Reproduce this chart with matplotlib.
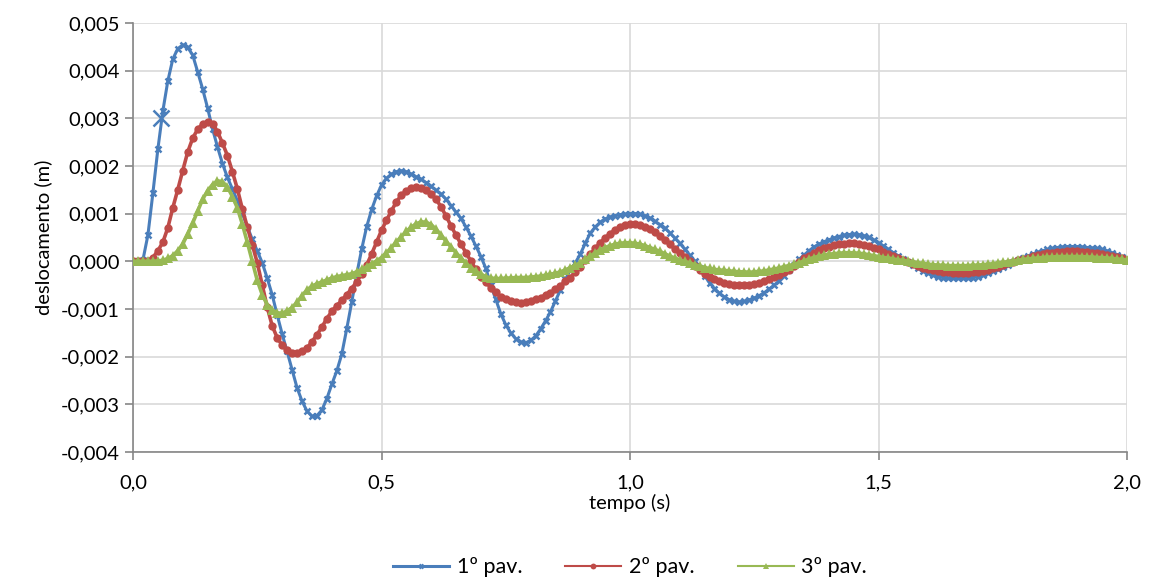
import numpy as np
import matplotlib
matplotlib.use("Agg")
import matplotlib.pyplot as plt
from matplotlib.ticker import FuncFormatter, MultipleLocator

# time axis: 0.00 .. 2.00 s, step 0.01 s
t_start, t_step, n_pts = 0.0, 0.01, 201

# displacements, in mm (x 1e-3 m)
pav1_mm = [
 0.00, 0.00, 0.03, 0.55, 1.43, 2.35, 3.15, 3.78, 4.24, 4.46,
 4.54, 4.49, 4.33, 3.98, 3.62, 3.22, 2.78, 2.40, 2.05, 1.76,
 1.52, 1.27, 1.00, 0.73, 0.46, 0.22, -0.03, -0.35, -0.70, -1.12,
 -1.52, -1.89, -2.27, -2.65, -2.93, -3.14, -3.25, -3.24, -3.12, -2.88,
 -2.58, -2.30, -1.95, -1.42, -0.86, -0.28, 0.25, 0.72, 1.08, 1.37,
 1.60, 1.74, 1.83, 1.88, 1.90, 1.88, 1.83, 1.77, 1.72, 1.65,
 1.57, 1.49, 1.41, 1.30, 1.17, 1.03, 0.90, 0.72, 0.53, 0.32,
 0.10, -0.15, -0.50, -0.80, -1.10, -1.33, -1.50, -1.62, -1.69, -1.71,
 -1.66, -1.57, -1.42, -1.25, -1.06, -0.83, -0.60, -0.38, -0.18, -0.03,
 0.15, 0.38, 0.59, 0.72, 0.82, 0.89, 0.93, 0.96, 0.98, 0.99,
 1.00, 1.00, 0.99, 0.96, 0.91, 0.84, 0.77, 0.70, 0.60, 0.49,
 0.38, 0.26, 0.13, 0.01, -0.15, -0.30, -0.45, -0.57, -0.67, -0.75,
 -0.81, -0.84, -0.85, -0.84, -0.81, -0.77, -0.72, -0.66, -0.58, -0.50,
 -0.41, -0.30, -0.19, -0.07, 0.04, 0.13, 0.22, 0.30, 0.36, 0.41,
 0.45, 0.49, 0.52, 0.55, 0.56, 0.57, 0.56, 0.54, 0.50, 0.45,
 0.39, 0.32, 0.25, 0.18, 0.11, 0.04, -0.02, -0.08, -0.14, -0.20,
 -0.25, -0.29, -0.32, -0.34, -0.35, -0.36, -0.36, -0.36, -0.35, -0.34,
 -0.32, -0.29, -0.25, -0.21, -0.17, -0.12, -0.07, -0.02, 0.02, 0.07,
 0.11, 0.15, 0.19, 0.22, 0.25, 0.27, 0.29, 0.30, 0.31, 0.31,
 0.31, 0.30, 0.29, 0.28, 0.27, 0.25, 0.22, 0.18, 0.14, 0.09,
 0.02]

pav2_mm = [
 0.00, 0.00, 0.00, 0.01, 0.08, 0.22, 0.40, 0.70, 1.12, 1.50,
 1.90, 2.29, 2.58, 2.77, 2.88, 2.93, 2.88, 2.72, 2.48, 2.22,
 1.88, 1.52, 1.10, 0.72, 0.35, -0.03, -0.50, -0.96, -1.35, -1.60,
 -1.76, -1.86, -1.92, -1.92, -1.88, -1.82, -1.69, -1.54, -1.38, -1.20,
 -1.05, -0.93, -0.82, -0.70, -0.57, -0.43, -0.26, -0.08, 0.15, 0.40,
 0.65, 0.86, 1.06, 1.25, 1.39, 1.48, 1.53, 1.55, 1.54, 1.49,
 1.41, 1.30, 1.14, 0.95, 0.74, 0.55, 0.36, 0.18, 0.00, -0.17,
 -0.32, -0.44, -0.55, -0.65, -0.75, -0.80, -0.84, -0.86, -0.87, -0.86,
 -0.83, -0.80, -0.76, -0.71, -0.66, -0.59, -0.51, -0.42, -0.34, -0.23,
 -0.11, 0.02, 0.15, 0.27, 0.39, 0.49, 0.58, 0.66, 0.72, 0.76,
 0.78, 0.78, 0.76, 0.72, 0.67, 0.61, 0.54, 0.45, 0.36, 0.26,
 0.18, 0.09, 0.00, -0.10, -0.18, -0.26, -0.33, -0.38, -0.42, -0.45,
 -0.47, -0.49, -0.50, -0.50, -0.49, -0.47, -0.45, -0.42, -0.38, -0.33,
 -0.28, -0.23, -0.18, -0.10, -0.02, 0.06, 0.12, 0.18, 0.23, 0.28,
 0.31, 0.34, 0.36, 0.37, 0.38, 0.38, 0.37, 0.35, 0.32, 0.29,
 0.25, 0.20, 0.15, 0.11, 0.06, 0.02, -0.02, -0.06, -0.10, -0.13,
 -0.16, -0.18, -0.21, -0.22, -0.23, -0.24, -0.24, -0.24, -0.24, -0.23,
 -0.22, -0.21, -0.18, -0.15, -0.12, -0.08, -0.04, -0.01, 0.02, 0.05,
 0.08, 0.11, 0.13, 0.15, 0.17, 0.18, 0.19, 0.20, 0.21, 0.21,
 0.21, 0.20, 0.19, 0.18, 0.17, 0.16, 0.14, 0.12, 0.09, 0.06,
 0.03]

pav3_mm = [
 0.00, 0.00, 0.00, 0.00, 0.00, 0.01, 0.02, 0.06, 0.12, 0.22,
 0.36, 0.57, 0.80, 1.05, 1.30, 1.48, 1.61, 1.69, 1.67, 1.56,
 1.36, 1.12, 0.78, 0.40, 0.00, -0.40, -0.70, -0.91, -1.02, -1.08,
 -1.09, -1.04, -0.97, -0.86, -0.72, -0.60, -0.52, -0.47, -0.43, -0.39,
 -0.35, -0.32, -0.30, -0.28, -0.26, -0.22, -0.17, -0.11, -0.05, 0.01,
 0.08, 0.18, 0.29, 0.41, 0.52, 0.63, 0.72, 0.79, 0.83, 0.82,
 0.77, 0.67, 0.55, 0.42, 0.30, 0.18, 0.07, -0.04, -0.13, -0.21,
 -0.27, -0.32, -0.35, -0.36, -0.36, -0.35, -0.35, -0.34, -0.34, -0.34,
 -0.33, -0.32, -0.31, -0.29, -0.27, -0.25, -0.22, -0.18, -0.13, -0.08,
 -0.03, 0.04, 0.11, 0.18, 0.24, 0.29, 0.33, 0.36, 0.38, 0.39,
 0.39, 0.38, 0.36, 0.33, 0.29, 0.25, 0.21, 0.16, 0.11, 0.07,
 0.03, 0.00, -0.03, -0.07, -0.10, -0.13, -0.15, -0.17, -0.18, -0.19,
 -0.20, -0.21, -0.22, -0.22, -0.23, -0.22, -0.21, -0.20, -0.18, -0.16,
 -0.14, -0.11, -0.09, -0.06, -0.03, 0.01, 0.05, 0.08, 0.11, 0.13,
 0.15, 0.16, 0.17, 0.18, 0.18, 0.18, 0.17, 0.16, 0.14, 0.12,
 0.10, 0.08, 0.07, 0.05, 0.03, 0.02, 0.00, -0.01, -0.03, -0.04,
 -0.06, -0.07, -0.08, -0.08, -0.09, -0.09, -0.09, -0.09, -0.09, -0.08,
 -0.08, -0.07, -0.06, -0.05, -0.03, -0.02, -0.01, 0.01, 0.02, 0.04,
 0.05, 0.06, 0.07, 0.08, 0.09, 0.09, 0.10, 0.10, 0.10, 0.10,
 0.10, 0.10, 0.09, 0.09, 0.08, 0.08, 0.07, 0.06, 0.05, 0.04,
 0.03]

# single highlighted point on the 1st floor series (large X marker)
highlight_time = [0.057]
highlight_mm = [3.00]

series_labels = ["1º pav.", "2º pav.", "3º pav."]
x_label = "tempo (s)"
y_label = "deslocamento (m)"

time = t_start + t_step * np.arange(n_pts)

blue, red, green = "#4A7EBB", "#BE4B48", "#98B954"

plt.rcParams['font.family'] = ['Lato', 'DejaVu Sans']
fig = plt.figure(figsize=(11.49, 5.83), dpi=100)
ax = fig.add_axes([133/1149, 1-452/583, (1127-133)/1149, (452-23)/583])

ax.plot(time, np.array(pav1_mm)/1000, color=blue, lw=2.2, marker='x',
        ms=5, mew=1.8, label=series_labels[0], zorder=3)
ax.plot(time, np.array(pav2_mm)/1000, color=red, lw=2.6, marker='o',
        ms=6, mew=0, label=series_labels[1], zorder=4)
ax.plot(time, np.array(pav3_mm)/1000, color=green, lw=2.6, marker='^',
        ms=6.5, mew=0, label=series_labels[2], zorder=5)
ax.plot(highlight_time, np.array(highlight_mm)/1000, ls='none', marker='x',
        ms=11, mew=1.8, color=blue, zorder=6)

ax.set_xlim(0, 2.0)
ax.set_ylim(-0.004, 0.005)
ax.xaxis.set_major_locator(MultipleLocator(0.5))
ax.yaxis.set_major_locator(MultipleLocator(0.001))
ax.xaxis.set_major_formatter(FuncFormatter(lambda v, p: f"{v:.1f}".replace('.', ',')))
ax.yaxis.set_major_formatter(FuncFormatter(lambda v, p: f"{v:.3f}".replace('.', ',')))

ax.grid(True, color="#D9D9D9", lw=1.2, zorder=0)
ax.set_axisbelow(True)
for s in ['top', 'right']:
    ax.spines[s].set_visible(False)
for s in ['left', 'bottom']:
    ax.spines[s].set_color("#868686")
    ax.spines[s].set_linewidth(1.2)
ax.tick_params(axis='both', colors="#868686", length=6, width=1.2,
               labelcolor='black', labelsize=14.5)
ax.tick_params(axis='x', pad=10)

ax.set_xlabel(x_label, fontsize=14.5, labelpad=2)
ax.set_ylabel(y_label, fontsize=14.5, labelpad=6)

leg = ax.legend(loc='upper center', bbox_to_anchor=(0.5, -0.2), ncol=3,
                frameon=False, fontsize=15.5, handlelength=2.6,
                columnspacing=2.0, handletextpad=0.35, markerscale=0.7)
for ln, w in zip(leg.get_lines(), [2.2, 1.5, 1.5]):
    ln.set_linewidth(w)

fig.savefig("out.png", dpi=100)
